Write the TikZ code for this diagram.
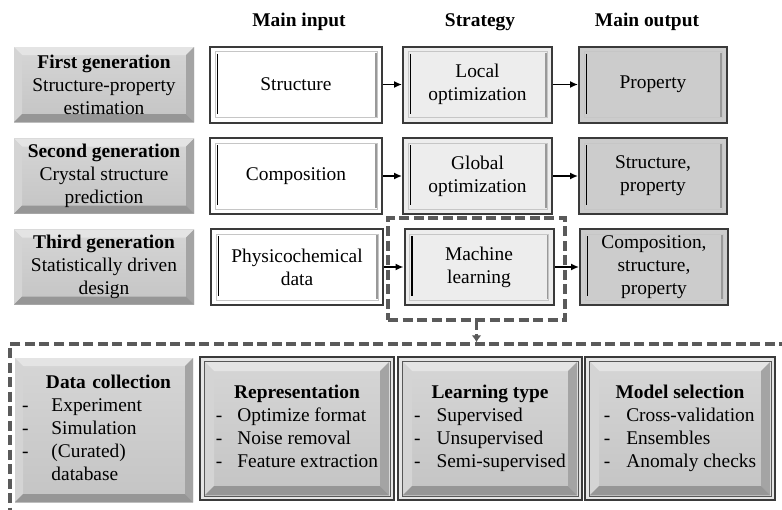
\documentclass[tikz,border=0pt]{standalone}
\usepackage{fontspec}
\setmainfont{Liberation Serif}
\usetikzlibrary{arrows.meta}

\definecolor{bevface}{HTML}{C4C4C4}
\definecolor{bevtop}{HTML}{E4E4E4}
\definecolor{bevleft}{HTML}{D4D4D4}
\definecolor{bevright}{HTML}{A4A4A4}
\definecolor{bevbottom}{HTML}{969696}
\definecolor{framedark}{HTML}{3A3A3A}
\definecolor{dashgray}{HTML}{5A5A5A}

% bevelled face: #1 inset from the border, #2 depth of the bevel
\newcommand\bevelpic[2]{%
  \coordinate (pnw) at ([shift={(#1,-#1)}]path picture bounding box.north west);
  \coordinate (pse) at ([shift={(-#1,#1)}]path picture bounding box.south east);
  \coordinate (pne) at (pse |- pnw);
  \coordinate (psw) at (pnw |- pse);
  \shade[top color=bevface!70!white, bottom color=bevface] (pnw) rectangle (pse);
  \fill[bevtop] (pnw) -- (pne) -- ([shift={(-#2,-#2)}]pne) -- ([shift={(#2,-#2)}]pnw) -- cycle;
  \fill[bevleft] (pnw) -- ([shift={(#2,-#2)}]pnw) -- ([shift={(#2,#2)}]psw) -- (psw) -- cycle;
  \fill[bevright] (pne) -- ([shift={(-#2,-#2)}]pne) -- ([shift={(-#2,#2)}]pse) -- (pse) -- cycle;
  \fill[bevbottom] (psw) -- ([shift={(#2,#2)}]psw) -- ([shift={(-#2,#2)}]pse) -- (pse) -- cycle;
}
% inner frame of the input/strategy/output boxes
\newcommand\framepic{%
  \draw[gray!45, line width=0.8pt] ([shift={(5pt,-5pt)}]path picture bounding box.north west) rectangle ([shift={(-5pt,5pt)}]path picture bounding box.south east);
  \draw[gray!80, line width=1.3pt] ([shift={(-6pt,-6pt)}]path picture bounding box.north east) -- ([shift={(-6pt,6pt)}]path picture bounding box.south east);
  \draw[black, line width=1.8pt] ([shift={(7.5pt,-7pt)}]path picture bounding box.north west) -- ([shift={(7.5pt,9pt)}]path picture bounding box.south west);
}
\newcommand\stagepic{%
  \bevelpic{5pt}{9pt}%
  \draw[framedark!85, line width=1pt] ([shift={(4pt,-4pt)}]path picture bounding box.north west) rectangle ([shift={(-4pt,4pt)}]path picture bounding box.south east);
}
\newcommand\blist[2]{\begin{tabular}{@{}l@{\hspace{#1}}l@{}}#2\end{tabular}}

\begin{document}
\begin{tikzpicture}[x=1pt, y=-1pt, font=\fontsize{19.4}{23}\selectfont,
    gen/.style={fill=bevface, minimum width=180pt, minimum height=75pt, inner sep=0pt, align=center, path picture={\bevelpic{0pt}{8pt}}},
    inbox/.style={draw=framedark, line width=2pt, fill=white, minimum width=172pt, minimum height=76pt, inner sep=0pt, align=center, path picture={\framepic}},
    stratbox/.style={inbox, fill=gray!14, minimum width=149pt},
    outbox/.style={inbox, fill=gray!40, minimum width=148pt},
    stage/.style={draw=framedark, line width=1.6pt, fill=gray!20, minimum height=143pt, inner sep=0pt, path picture={\stagepic}},
    dashbox/.style={draw=dashgray, line width=3.5pt, dash pattern=on 10pt off 4.5pt, inner sep=0pt},
    flow/.style={-{Latex[length=8pt,width=7pt]}, line width=1.5pt}]
    \path[use as bounding box, clip] (0,0) rectangle (782,509);

    % column heads
    \node (hin) at (299,22) {\textbf{Main input}};
    \node (hstrat) at (480,22) {\textbf{Strategy}};
    \node (hout) at (647,22) {\textbf{Main output}};

    % three generations
    \node[gen] (g1) at (104,84.5) {\textbf{First generation}\\Structure-property\\estimation};
    \node[inbox] (in1) at (296,84.5) {Structure};
    \node[stratbox] (st1) at (477.5,84.5) {Local\\optimization};
    \node[outbox] (ou1) at (653,84.5) {Property};

    \node[gen] (g2) at (104,176) {\textbf{Second generation}\\Crystal structure\\prediction};
    \node[inbox] (in2) at (296,176) {Composition};
    \node[stratbox] (st2) at (477.5,176) {Global\\optimization};
    \node[outbox] (ou2) at (653,176) {Structure,\\property};

    \node[gen] (g3) at (104,267) {\textbf{Third generation}\\Statistically driven\\design};
    \node[inbox] (in3) at (297,267) {Physicochemical\\data};
    \node[stratbox] (st3) at (479,267) {Machine\\learning};
    \node[outbox] (ou3) at (654,267) {Composition,\\structure,\\property};

    \node[dashbox, minimum width=177pt, minimum height=102pt] (mlbox) at (476.5,269) {};
    \node[dashbox, minimum width=780pt, minimum height=176pt] (detail) at (400,432) {};

    \draw[flow] (in1) -- (st1);
    \draw[flow] (st1) -- (ou1);
    \draw[flow] (in2) -- (st2);
    \draw[flow] (st2) -- (ou2);
    \draw[flow] (in3) -- (st3);
    \draw[flow] (st3) -- (ou3);
    \draw[draw=dashgray, line width=2.5pt, dash pattern=on 8pt off 4pt, -{Latex[length=7pt,width=10pt]}] (mlbox.south) -- (mlbox.south |- detail.north);

    % machine learning workflow
    \node[gen, minimum width=178pt, minimum height=144pt, text width=164pt, align=left] (collect) at (104,430)
        {\blist{23pt}{\multicolumn{2}{@{\hspace{24pt}}l@{}}{\textbf{Data collection}}\\- & Experiment\\- & Simulation\\- & (Curated)\\ & database}};
    \node[stage, minimum width=194pt] (repr) at (297,428.5)
        {\blist{15pt}{\multicolumn{2}{c}{\textbf{Representation}}\\- & Optimize format\\- & Noise removal\\- & Feature extraction}};
    \node[stage, minimum width=184pt] (learn) at (490,428.5)
        {\blist{16pt}{\multicolumn{2}{c}{\textbf{Learning type}}\\- & Supervised\\- & Unsupervised\\- & Semi-supervised}};
    \node[stage, minimum width=190pt] (select) at (680,428.5)
        {\blist{16pt}{\multicolumn{2}{c}{\textbf{Model selection}}\\- & Cross-validation\\- & Ensembles\\- & Anomaly checks}};
\end{tikzpicture}
\end{document}
